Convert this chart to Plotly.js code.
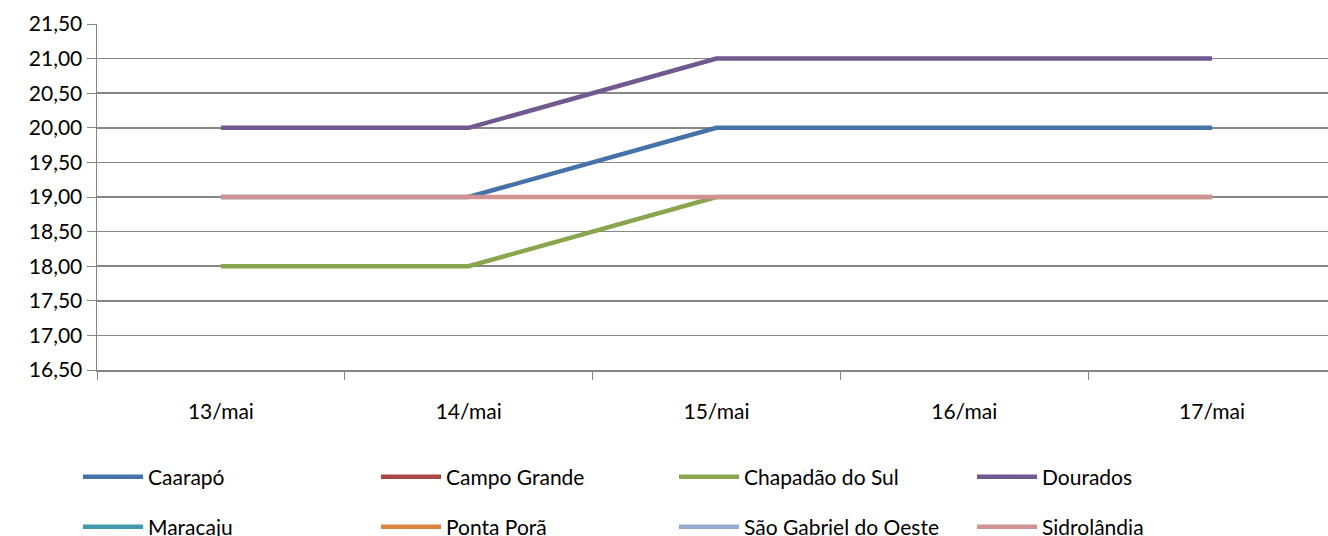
<!DOCTYPE html>
<html><head><meta charset="utf-8">
<script src="https://cdn.plot.ly/plotly-3.0.1.min.js"></script>
<style>html,body{margin:0;padding:0;background:#fff}#c{width:1328px;height:536px}</style>
</head><body><div id="c"></div>
<script>
const categories = ["13/mai","14/mai","15/mai","16/mai","17/mai"];
const seriesNames = ["Caarapó","Campo Grande","Chapadão do Sul","Dourados","Maracaju","Ponta Porã","São Gabriel do Oeste","Sidrolândia"];
const caarapo = [19, 19, 20, 20, 20];
const campoGrande = [null, null, null, null, null];
const chapadao = [18, 18, 19, 19, 19];
const dourados = [20, 20, 21, 21, 21];
const maracaju = [null, null, null, null, null];
const pontaPora = [null, null, null, null, null];
const saoGabriel = [null, null, null, null, null];
const sidrolandia = [19, 19, 19, 19, 19];
const yTicks = [16.5,17,17.5,18,18.5,19,19.5,20,20.5,21,21.5];

const values = [caarapo, campoGrande, chapadao, dourados, maracaju, pontaPora, saoGabriel, sidrolandia];
const colors = ["#4572A7","#AA4643","#89A54E","#71588F","#4198AF","#DB843D","#93A9CF","#D19392"];

const traces = values.map((v,i)=>({
  x: categories, y: v, name: seriesNames[i], type: "scatter", mode: "lines",
  line: {color: colors[i], width: 4.5},
  legend: i < 4 ? "legend" : "legend2",
  hoverinfo: "skip"
}));

const font = {family: "Lato, 'Open Sans', sans-serif", size: 21, color: "#000"};
const legendCommon = {orientation: "h", xref: "container", yref: "container", xanchor: "left", yanchor: "middle",
  entrywidth: 223, entrywidthmode: "pixels", font: font, bgcolor: "rgba(0,0,0,0)", itemwidth: 60};

const layout = {
  width: 1328, height: 536,
  margin: {l: 97, r: 0, t: 24, b: 166},
  paper_bgcolor: "#fff", plot_bgcolor: "#fff",
  separators: ", ",
  font: font,
  showlegend: true,
  xaxis: {type: "category", range: [-0.5, 4.468], showgrid: false, ticks: "outside", tickson: "boundaries",
    ticklen: 8, tickcolor: "#868686", showline: true, linecolor: "#868686", linewidth: 1.5,
    tickfont: font, ticklabelstandoff: 22, fixedrange: true},
  yaxis: {range: [16.5, 21.5], tickvals: yTicks, tickformat: ".2f", showgrid: true, gridcolor: "#868686", gridwidth: 1.5,
    ticks: "outside", ticklen: 9, tickcolor: "#868686", showline: true, linecolor: "#868686", linewidth: 1.5,
    zeroline: false, tickfont: font, fixedrange: true},
  legend: Object.assign({x: 78/1328, y: 1 - 477/536}, legendCommon),
  legend2: Object.assign({x: 78/1328, y: 1 - 527/536}, legendCommon)
};
Plotly.newPlot("c", traces, layout, {staticPlot: true});
</script></body></html>
